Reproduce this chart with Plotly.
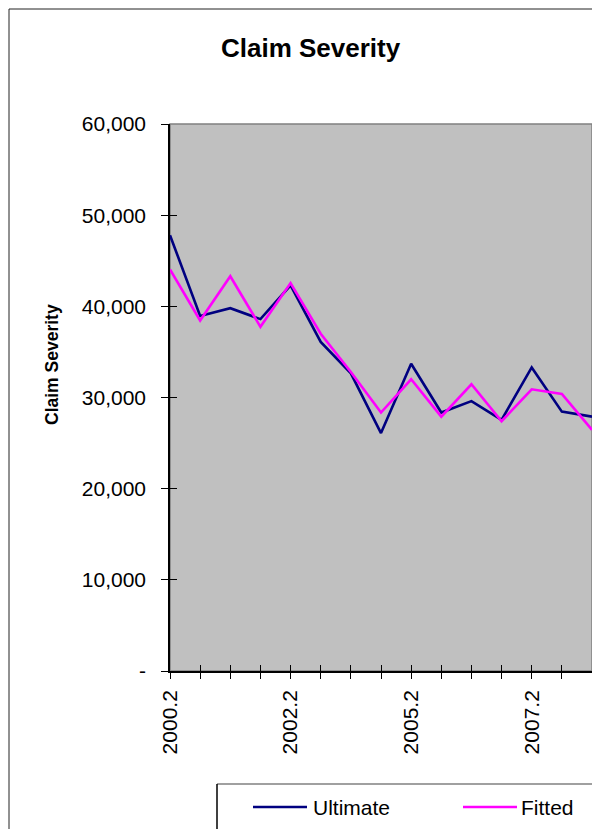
import plotly.graph_objects as go

# ---- data ----
periods = list(range(15))
tick_labels = ["2000.2", "", "", "", "2002.2", "", "", "", "2005.2", "", "", "", "2007.2", "", ""]
ultimate = [47800, 38950, 39800, 38600, 42300, 36100, 32650, 26100, 33700, 28350, 29600, 27550, 33300, 28450, 27900]
fitted = [44050, 38450, 43300, 37750, 42550, 37000, 32800, 28350, 32000, 27900, 31450, 27400, 30900, 30400, 26450]
y_ticks = [0, 10000, 20000, 30000, 40000, 50000, 60000]
y_tick_text = ["-", "10,000", "20,000", "30,000", "40,000", "50,000", "60,000"]

FONT = "Liberation Sans, Arial, sans-serif"
OFF = 8  # browser body margin
W, H = 600 - OFF, 829 - OFF
L, R, T, B = 170 - OFF, 8, 124 - OFF, 158
PW = W - L - R
PH = H - T - B

def px(x):
    return (x - OFF - L) / PW

def py(y):
    return (H - B - (y - OFF)) / PH

fig = go.Figure()
fig.add_trace(go.Scatter(x=periods, y=ultimate, mode="lines", name="Ultimate",
                         line=dict(color="#000080", width=2.6)))
fig.add_trace(go.Scatter(x=periods, y=fitted, mode="lines", name="Fitted",
                         line=dict(color="#FF00FF", width=2.6)))

xr = [0, len(periods) - 1]
yr = [0, 60000]

fig.update_layout(
    width=W, height=H,
    margin=dict(l=L, r=R, t=T, b=B),
    paper_bgcolor="white",
    plot_bgcolor="#C0C0C0",
    showlegend=False,
    font=dict(family=FONT, color="black", size=21),
    xaxis=dict(range=xr, tickvals=periods, ticktext=tick_labels, tickangle=-90,
               ticks="outside", ticklen=6, tickwidth=1, tickcolor="black",
               showline=True, linecolor="black", linewidth=1.5,
               showgrid=False, zeroline=False, tickfont=dict(size=21, family=FONT),
               ticklabelstandoff=3),
    yaxis=dict(range=yr, tickvals=y_ticks, ticktext=y_tick_text,
               ticks="outside", ticklen=7, tickwidth=1, tickcolor="black",
               showline=True, linecolor="black", linewidth=1.5,
               showgrid=False, zeroline=False, tickfont=dict(size=21, family=FONT),
               ticklabelstandoff=11),
    xaxis2=dict(range=xr, overlaying="x", anchor="y", side="bottom", tickvals=periods,
                showticklabels=False, ticks="inside", ticklen=6, tickcolor="black",
                showgrid=False, zeroline=False, showline=False),
    yaxis2=dict(range=yr, overlaying="y", anchor="x", side="left", tickvals=y_ticks,
                showticklabels=False, ticks="inside", ticklen=7, tickcolor="black",
                showgrid=False, zeroline=False, showline=False),
)
# invisible trace to activate overlay axes
fig.add_trace(go.Scatter(x=[periods[0]], y=[y_ticks[0]], xaxis="x2", yaxis="y2",
                         mode="markers", marker=dict(opacity=0), hoverinfo="skip",
                         showlegend=False))

shapes = [
    # plot area border (top/right grey)
    dict(type="rect", xref="paper", yref="paper", x0=0, x1=1, y0=0, y1=1,
         line=dict(color="#808080", width=1.5), layer="below"),
    # outer chart border
    dict(type="rect", xref="paper", yref="paper", x0=px(9), x1=px(640), y0=py(880), y1=py(9),
         line=dict(color="#222222", width=1)),
    # legend box
    dict(type="line", xref="paper", yref="paper", x0=px(217), x1=px(640), y0=py(784), y1=py(784),
         line=dict(color="#808080", width=1.5)),
    dict(type="line", xref="paper", yref="paper", x0=px(217), x1=px(217), y0=py(784), y1=py(880),
         line=dict(color="black", width=1.5)),
    # legend swatches
    dict(type="line", xref="paper", yref="paper", x0=px(253), x1=px(307), y0=py(807), y1=py(807),
         line=dict(color="#000080", width=2.6)),
    dict(type="line", xref="paper", yref="paper", x0=px(463), x1=px(517), y0=py(807), y1=py(807),
         line=dict(color="#FF00FF", width=2.6)),
]
fig.update_layout(shapes=shapes)

annotations = [
    dict(text="<b>Claim Severity</b>", xref="paper", yref="paper", x=px(311), y=py(48),
         xanchor="center", yanchor="middle", showarrow=False, font=dict(size=26, family=FONT)),
    dict(text="<b>Claim Severity</b>", xref="paper", yref="paper", x=px(52), y=py(365),
         xanchor="center", yanchor="middle", textangle=-90, showarrow=False,
         font=dict(size=17.5, family=FONT)),
    dict(text="Ultimate", xref="paper", yref="paper", x=px(311), y=py(807),
         xanchor="left", yanchor="middle", showarrow=False, font=dict(size=21, family=FONT)),
    dict(text="Fitted", xref="paper", yref="paper", x=px(519), y=py(807),
         xanchor="left", yanchor="middle", showarrow=False, font=dict(size=21, family=FONT)),
]
fig.update_layout(annotations=annotations)

fig.write_html("out.html")
